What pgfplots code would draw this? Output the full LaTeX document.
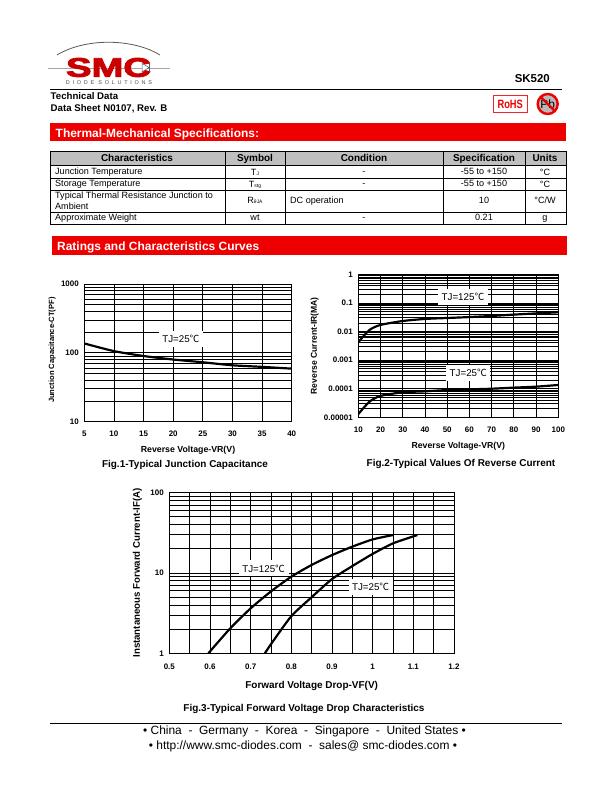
\documentclass[border=0pt]{standalone}
\usepackage{fontspec}
\usepackage{pgfplots}
\pgfplotsset{compat=1.18}
\setmainfont{Liberation Sans}
\newfontfamily\cjk{Noto Sans CJK SC}
\newfontfamily\spaced[LetterSpace=50]{Liberation Sans}
\newfontfamily\logofont[FakeBold=3,BoldFont={Liberation Sans Bold}]{Liberation Sans Bold}
\definecolor{smcred}{HTML}{EE0000}
\definecolor{hdrgray}{HTML}{BFBFBF}
\newcommand{\fs}[1]{\fontsize{#1}{#1}\selectfont}
\newcommand{\degC}{{\cjk ℃}}
\pgfplotsset{
    scale only axis,
    axis line style={black,line width=1pt},
    grid style={black,line width=0.8pt},
    minor grid style={black,line width=0.8pt},
    xmajorgrids, ymajorgrids, yminorgrids,
    major tick length=0pt, minor tick length=0pt,
    /pgf/number format/assume math mode=true,
    ticklabel style={font=\fs{8}\bfseries},
    yticklabel style={xshift=-2pt},
    mycurve/.style={black,line width=2.2pt,smooth,tension=0.4,no marks},
}
\tikzset{tj/.style={fill=white,font=\fs{9.8},inner sep=0pt,minimum width=44pt,minimum height=16pt}}
\begin{document}
\begin{tikzpicture}[x=1bp,y=-1bp]
\path[use as bounding box,fill=white] (0,0) rectangle (612,792);
% logo
\draw[gray!70,line width=0.9pt] (48,68) -- (170,68);
\draw[gray!70!black,line width=0.8pt] (57,55) .. controls (85,38) and (132,38) .. (160,55);
\node[inner sep=0,text=smcred!85!black] at (108.5,67.5) {\scalebox{1.42}[1.0]{\fs{27}\logofont SMC}};
\draw[gray!70!black,line width=0.5pt,fill=white] (142,63.5) -- (149,67.5) -- (142,72) -- cycle;
\draw[gray!70!black,line width=0.5pt] (149,63) -- (149,72);
\node[anchor=base,inner sep=0,text=black!70] at (109,84) {\fs{5.5}\spaced DIODE SOLUTIONS};
% header
\draw[black,line width=1pt] (50,89.5) -- (562,89.5);
\node[anchor=base east,inner sep=0] at (550,82) {\fs{11.5}\bfseries SK520};
\node[anchor=base west,inner sep=0] at (50.5,99) {\fs{9.7}\bfseries Technical Data};
\node[anchor=base west,inner sep=0] at (50.5,111) {\fs{9.7}\bfseries Data Sheet N0107, Rev. B};
\draw[smcred!85,line width=1pt] (493,95.5) rectangle (527.5,112.5);
\node[inner sep=0,text=smcred] at (510.2,104) {\scalebox{0.85}[1.1]{\fs{11}\bfseries RoHS}};
\fill[gray!55] (547.7,104) circle (9.5);
\node[inner sep=0] at (547.7,104.5) {\fs{12}Pb};
\draw[smcred,line width=2.4pt] (547.7,104) circle (10);
\draw[smcred,line width=2.2pt] (540.6,96.9) -- (554.8,111.1);
% red bars
\fill[smcred] (50,123) rectangle (566,141);
\node[anchor=base west,inner sep=0,text=white] at (55.5,137) {\fs{12}\bfseries Thermal-Mechanical Specifications:};
\fill[smcred] (52,236) rectangle (567,255);
\node[anchor=base west,inner sep=0,text=white] at (57,250) {\fs{12}\bfseries Ratings and Characteristics Curves};
% table
\fill[hdrgray] (50,151) rectangle (566,165);
\draw[black,line width=0.9pt] (50,151) rectangle (566,224);
\foreach \yy in {165,178,190,212} \draw[black,line width=0.9pt] (50,\yy) -- (566,\yy);
\foreach \xx in {225,285,443,525} \draw[black,line width=0.9pt] (\xx,151) -- (\xx,224);
\foreach \xx/\lbl in {137/Characteristics,255/Symbol,364/Condition,484/Specification,545/Units}
  \node[anchor=base,inner sep=0] at (\xx,161) {\fs{10}\bfseries \lbl};
\node[anchor=base west,inner sep=0] at (55,174.5) {\fs{9.1}Junction Temperature};
\node[anchor=base west,inner sep=0] at (55,186.5) {\fs{9.1}Storage Temperature};
\node[anchor=base west,inner sep=0] at (55,198.5) {\fs{9.1}Typical Thermal Resistance Junction to};
\node[anchor=base west,inner sep=0] at (55,209) {\fs{9.1}Ambient};
\node[anchor=base west,inner sep=0] at (55,220.5) {\fs{9.1}Approximate Weight};
\node[anchor=base,inner sep=0] at (255,175) {\fs{9.1}T\raisebox{-1pt}{\fs{5}J}};
\node[anchor=base,inner sep=0] at (255,187) {\fs{9.1}T\raisebox{-1pt}{\fs{5}stg}};
\node[anchor=base,inner sep=0] at (255,203) {\fs{9.1}R\raisebox{-1pt}{\fs{5}θJA}};
\node[anchor=base,inner sep=0] at (255,220.5) {\fs{9.1}wt};
\foreach \yy in {174.5,186.5,220.5} \node[anchor=base,inner sep=0] at (364,\yy) {\fs{9.1}-};
\node[anchor=base west,inner sep=0] at (290,203) {\fs{9.1}DC operation};
\node[anchor=base,inner sep=0] at (484,174.5) {\fs{9.1}-55 to +150};
\node[anchor=base,inner sep=0] at (484,186.5) {\fs{9.1}-55 to +150};
\node[anchor=base,inner sep=0] at (484,203) {\fs{9.1}10};
\node[anchor=base,inner sep=0] at (484,220.5) {\fs{9.1}0.21};
\node[anchor=base,inner sep=0] at (545,175) {\fs{9.1}°C};
\node[anchor=base,inner sep=0] at (545,187) {\fs{9.1}°C};
\node[anchor=base,inner sep=0] at (545,203) {\fs{9.1}°C/W};
\node[anchor=base,inner sep=0] at (545,220.5) {\fs{9.1}g};
% Fig 1
\begin{axis}[ymode=log,log basis y=10,at={(84.3bp,-421.7bp)},anchor=south west,width=207.4bp,height=137.7bp,
  xmin=5,xmax=40,ymin=10,ymax=1000,xtick={5,10,...,40},
  ytick={10,100,1000},yticklabels={10,100,1000},
  minor ytick={20,30,40,50,60,70,80,90,200,300,400,500,600,700,800,900},
  xticklabel style={yshift=-5.5pt},
  xlabel={Reverse Voltage-VR(V)},ylabel={Junction Capacitance-CT(PF)},
  xlabel style={font=\fs{8.8}\bfseries,at={(axis description cs:0.5,-0.22)},anchor=base},
  ylabel style={font=\fs{7.6}\bfseries,at={(axis description cs:-0.146,0.52)},anchor=base}]
\addplot[mycurve] coordinates {(5,137)(10,106)(15,90)(20,80)(25,73)(30,66)(35,62.6)(40,59)};
\node[tj] at (axis cs:21.3,158) {TJ=25\degC};
\end{axis}
\node[anchor=base,inner sep=0] at (185,467) {\fs{10}\bfseries Fig.1-Typical Junction Capacitance};
% Fig 2
\begin{axis}[ymode=log,log basis y=10,at={(358.3bp,-417.3bp)},anchor=south west,width=200bp,height=143bp,
  xmin=10,xmax=100,ymin=0.00001,ymax=1,xtick={10,20,...,100},
  ytick={0.00001,0.0001,0.001,0.01,0.1,1},yticklabels={0.00001,0.0001,0.001,0.01,0.1,1},
  minor ytick={0.00002,0.00003,0.00004,0.00005,0.00006,0.00007,0.00008,0.00009,
    0.0002,0.0003,0.0004,0.0005,0.0006,0.0007,0.0008,0.0009,
    0.002,0.003,0.004,0.005,0.006,0.007,0.008,0.009,
    0.02,0.03,0.04,0.05,0.06,0.07,0.08,0.09,
    0.2,0.3,0.4,0.5,0.6,0.7,0.8,0.9},
  xticklabel style={yshift=-6.5pt},
  xlabel={Reverse Voltage-VR(V)},ylabel={Reverse Current-IR(MA)},
  xlabel style={font=\fs{8.7}\bfseries,at={(axis description cs:0.5,-0.22)},anchor=base},
  ylabel style={font=\fs{8.6}\bfseries,at={(axis description cs:-0.207,0.5)},anchor=base}]
\addplot[mycurve] coordinates {(10,0.0042)(15,0.0113)(20,0.017)(30,0.0233)(40,0.0275)(50,0.0297)(60,0.032)(70,0.035)(80,0.039)(90,0.043)(100,0.047)};
\addplot[mycurve] coordinates {(10,0.000013)(15,0.000035)(20,0.000056)(30,0.000075)(40,0.000081)(50,0.00009)(60,0.000095)(70,0.0001)(80,0.000109)(90,0.000118)(100,0.000135)};
\node[tj,minimum width=50pt] at (axis cs:57.1,0.16) {TJ=125\degC};
\node[tj] at (axis cs:59.5,0.00035) {TJ=25\degC};
\end{axis}
\node[anchor=base,inner sep=0] at (461,466) {\fs{10}\bfseries Fig.2-Typical Values Of Reverse Current};
% Fig 3
\begin{axis}[ymode=log,log basis y=10,at={(169.3bp,-653.3bp)},anchor=south west,width=284.7bp,height=160.6bp,
  xmin=0.5,xmax=1.2,ymin=1,ymax=100,
  xtick={0.5,0.6,0.7,0.8,0.9,1,1.1,1.2},xticklabels={0.5,0.6,0.7,0.8,0.9,1,1.1,1.2},
  minor xtick={0.55,0.65,0.75,0.85,0.95,1.05,1.15},xminorgrids,
  ytick={1,10,100},yticklabels={1,10,100},
  minor ytick={2,3,4,5,6,7,8,9,20,30,40,50,60,70,80,90},
  xticklabel style={yshift=-7pt},
  xlabel={Forward Voltage Drop-VF(V)},ylabel={Instantaneous Forward Current-IF(A)},
  xlabel style={font=\fs{10}\bfseries,at={(axis description cs:0.5,-0.222)},anchor=base},
  ylabel style={font=\fs{9.7}\bfseries,at={(axis description cs:-0.103,0.5)},anchor=base}]
\addplot[mycurve] coordinates {(0.596,1)(0.65,2.05)(0.7,3.63)(0.75,5.9)(0.8,9)(0.85,12.6)(0.9,16.7)(0.95,21.3)(1,26.2)(1.05,29.7)};
\addplot[mycurve] coordinates {(0.735,1)(0.75,1.3)(0.8,2.9)(0.85,5)(0.9,8.4)(0.95,12.2)(1,17.3)(1.05,23.4)(1.11,29.7)};
\node[tj,minimum width=50pt] at (axis cs:0.732,11.4) {TJ=125\degC};
\node[tj] at (axis cs:0.995,6.75) {TJ=25\degC};
\end{axis}
\node[anchor=base,inner sep=0] at (304,711.5) {\fs{10}\bfseries Fig.3-Typical Forward Voltage Drop Characteristics};
% footer
\draw[black,line width=0.8pt] (50,723) -- (562,723);
\node[anchor=base,inner sep=0] at (304.5,734.5) {\fs{12}\textbullet\ China~~-~~Germany~~-~~Korea~~-~~Singapore~~-~~United States \textbullet};
\node[anchor=base,inner sep=0] at (303,749.5) {\fs{12}\textbullet\ http://www.smc-diodes.com~~-~~sales@ smc-diodes.com \textbullet};
\end{tikzpicture}
\end{document}
